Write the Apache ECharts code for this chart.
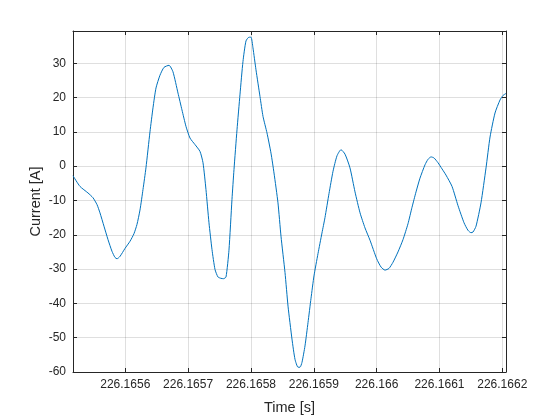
<!DOCTYPE html>
<html><head><meta charset="utf-8">
<script src="https://cdn.jsdelivr.net/npm/echarts@6/dist/echarts.min.js"></script>
<style>html,body{margin:0;padding:0;background:#fff}#c{width:560px;height:420px}</style>
</head><body><div id="c"></div>
<script>
const timeS = [
226.1655168,226.1655279,226.1655406,226.1655486,226.1655550,226.1655597,226.1655661,226.1655725,
226.1655788,226.1655836,226.1655868,226.1655916,226.1655995,226.1656075,226.1656138,226.1656186,
226.1656234,226.1656282,226.1656329,226.1656393,226.1656441,226.1656489,226.1656552,226.1656616,
226.1656696,226.1656759,226.1656839,226.1656902,226.1656966,226.1657030,226.1657109,226.1657189,
226.1657237,226.1657284,226.1657332,226.1657380,226.1657428,226.1657475,226.1657523,226.1657563,
226.1657603,226.1657650,226.1657698,226.1657730,226.1657778,226.1657826,226.1657873,226.1657921,
226.1657969,226.1658001,226.1658032,226.1658080,226.1658144,226.1658192,226.1658255,226.1658319,
226.1658367,226.1658430,226.1658478,226.1658542,226.1658590,226.1658653,226.1658701,226.1658749,
226.1658781,226.1658812,226.1658860,226.1658908,226.1658956,226.1659003,226.1659067,226.1659130,
226.1659178,226.1659242,226.1659306,226.1659369,226.1659433,226.1659497,226.1659576,226.1659656,
226.1659736,226.1659815,226.1659895,226.1660001,226.1660070,226.1660133,226.1660197,226.1660261,
226.1660340,226.1660420,226.1660499,226.1660563,226.1660627,226.1660690,226.1660770,226.1660818,
226.1660866,226.1660913,226.1660977,226.1661041,226.1661104,226.1661200,226.1661295,226.1661391,
226.1661454,226.1661502,226.1661534,226.1661582,226.1661661,226.1661741,226.1661805,226.1661884,
226.1661964,226.1662011,226.1662059
];
const currentA = [
-2.8,-5.9,-7.8,-9.2,-11.2,-13.6,-17.5,-21.4,
-24.8,-26.6,-27.0,-26.3,-24.0,-21.9,-19.7,-17.0,
-12.8,-6.8,-0.5,10.0,17.0,22.8,26.5,28.8,
29.4,27.5,21.3,16.4,11.6,8.2,6.3,4.3,
1.0,-6.8,-16.5,-24.3,-30.1,-32.3,-32.7,-32.8,
-32.3,-24.5,-9.7,-1.0,10.6,21.0,30.5,36.5,
37.6,37.6,34.5,28.1,20.3,14.5,9.7,3.8,
-2.0,-10.7,-20.4,-31.0,-40.8,-50.4,-56.3,-58.6,
-58.6,-57.2,-52.4,-45.6,-38.5,-32.0,-25.5,-19.5,
-15.0,-8.0,-1.5,3.0,4.8,3.5,-0.5,-7.5,
-13.6,-18.0,-21.6,-27.0,-29.4,-30.3,-29.8,-28.0,
-25.0,-21.4,-16.8,-12.0,-7.5,-3.5,0.4,2.0,
2.7,2.4,1.0,-0.8,-2.6,-5.9,-11.5,-16.5,
-18.7,-19.4,-19.2,-17.5,-10.7,-0.5,8.5,15.5,
19.3,20.6,21.2
];
const xTicks = [226.1656, 226.1657, 226.1658, 226.1659, 226.1660, 226.1661, 226.1662];
const yTicks = [-60, -50, -40, -30, -20, -10, 0, 10, 20, 30];
const xLimits = [226.1655168, 226.1662059];
const yLimits = [-60, 39.4];
const xName = 'Time [s]';
const yName = 'Current [A]';

const FONT = '"Liberation Sans", Arial, Helvetica, sans-serif';
const INK = '#262626';
const GRID = 'rgba(38,38,38,0.15)';
const fmtX = v => { let s = Number(v).toFixed(4); s = s.replace(/0+$/, '').replace(/\.$/, ''); return s; };

const chart = echarts.init(document.getElementById('c'), null, {renderer: 'canvas'});
const baseX = {
  type: 'value', min: xLimits[0], max: xLimits[1],
  axisLine: {show: true, onZero: false, lineStyle: {color: INK, width: 1}},
  axisTick: {show: true, inside: true, length: 4, customValues: xTicks, lineStyle: {color: INK}},
};
const baseY = {
  type: 'value', min: yLimits[0], max: yLimits[1],
  axisLine: {show: true, onZero: false, lineStyle: {color: INK, width: 1}},
  axisTick: {show: true, inside: true, length: 4, customValues: yTicks, lineStyle: {color: INK}},
};
chart.setOption({
  animation: false,
  backgroundColor: '#fff',
  grid: {left: 73, top: 31, right: 54, bottom: 47, containLabel: false},
  xAxis: [
    Object.assign({}, baseX, {
      position: 'bottom',
      name: xName, nameLocation: 'middle', nameGap: 28, nameMoveOverlap: false,
      nameTextStyle: {color: INK, fontSize: 14.5, fontFamily: FONT},
      axisLabel: {show: true, customValues: xTicks, margin: 7, color: INK, fontSize: 12, fontFamily: FONT, formatter: fmtX, hideOverlap: false},
      splitLine: {show: true, lineStyle: {color: GRID, width: 1}}
    }),
    Object.assign({}, baseX, {
      position: 'top',
      axisLabel: {show: false},
      splitLine: {show: false}
    })
  ],
  yAxis: [
    Object.assign({}, baseY, {
      position: 'left',
      name: yName, nameLocation: 'middle', nameGap: 30, nameRotate: 90, nameMoveOverlap: false,
      nameTextStyle: {color: INK, fontSize: 14.5, fontFamily: FONT},
      axisLabel: {show: true, customValues: yTicks, margin: 7, color: INK, fontSize: 12, fontFamily: FONT},
      splitLine: {show: true, lineStyle: {color: GRID, width: 1}}
    }),
    Object.assign({}, baseY, {
      position: 'right',
      axisLabel: {show: false},
      splitLine: {show: false}
    })
  ],
  series: [{
    type: 'line',
    xAxisIndex: 0, yAxisIndex: 0,
    data: timeS.map((t, i) => [t, currentA[i]]),
    showSymbol: false, symbol: 'none',
    smooth: 0.2,
    lineStyle: {color: '#0072BD', width: 1},
    clip: true
  }]
});
</script>
</body></html>
